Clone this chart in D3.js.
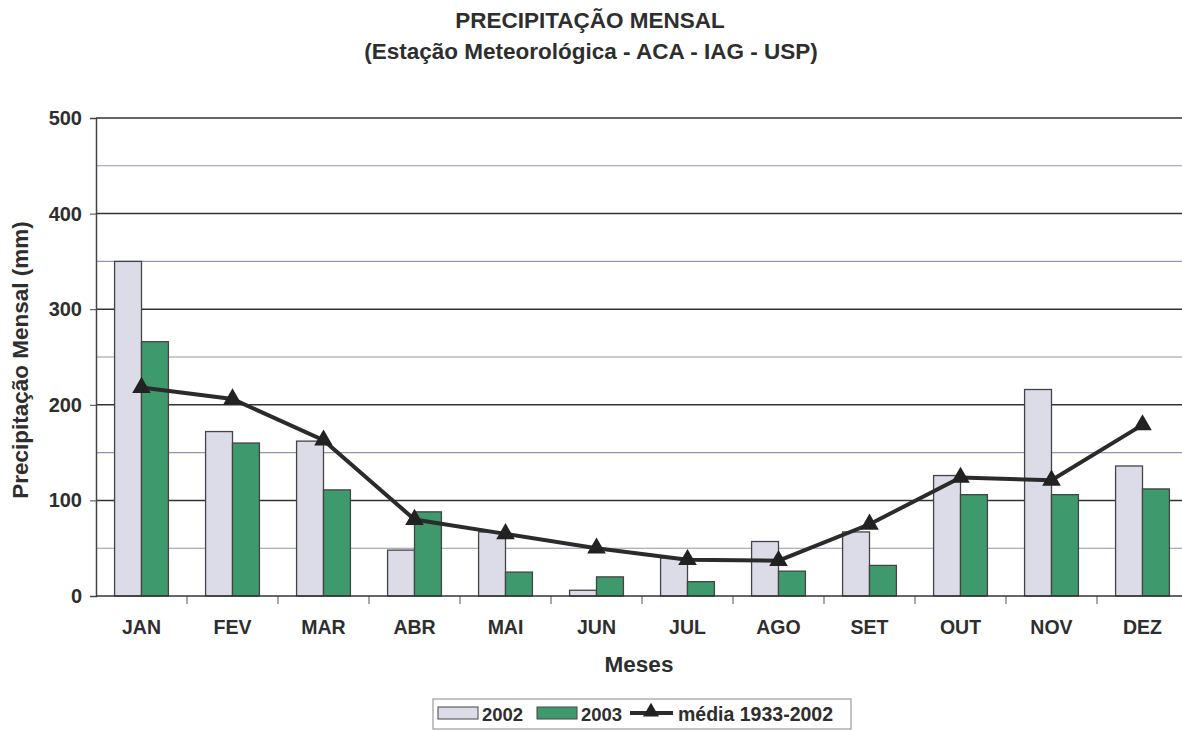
<!DOCTYPE html>
<html>
<head>
<meta charset="utf-8">
<script src="https://cdn.jsdelivr.net/npm/d3@7"></script>
<style>
  body { margin: 0; background: #fff; }
  text { font-family: "Liberation Sans", Arial, sans-serif; font-weight: bold; fill: #2e2e2e; }
</style>
</head>
<body>
<svg id="chart" width="1182" height="730"></svg>
<script>
// monthly data
const months = ["JAN", "FEV", "MAR", "ABR", "MAI", "JUN", "JUL", "AGO", "SET", "OUT", "NOV", "DEZ"];
const years = ["2002", "2003"];
const rain2002 = [350, 172, 162, 48, 67, 6, 40, 57, 67, 126, 216, 136];
const rain2003 = [266, 160, 111, 88, 25, 20, 15, 26, 32, 106, 106, 112];
const media = [218, 206, 163, 80, 65, 50, 38, 37, 75, 124, 121, 179];
const yTicks = [0, 100, 200, 300, 400, 500];
const yMinor = [50, 150, 250, 350, 450];

const colors = { "2002": "#dcdbe8", "2003": "#3e9a6c" };

const svg = d3.select("#chart");
const plotL = 96, plotR = 1188, plotT = 118, plotB = 596;

const x = d3.scaleBand().domain(months).range([plotL, plotR]).paddingInner(0).paddingOuter(0);
const xs = d3.scaleBand().domain(years).range([0, x.bandwidth()]).paddingInner(0).paddingOuter(0.69);
const y = d3.scaleLinear().domain([0, 500]).range([plotB, plotT]);

// titles
svg.append("text").attr("x", 590).attr("y", 28).attr("text-anchor", "middle")
  .style("font-size", "22.5px").text("PRECIPITAÇÃO MENSAL");
svg.append("text").attr("x", 591).attr("y", 59).attr("text-anchor", "middle")
  .style("font-size", "22.5px").text("(Estação Meteorológica - ACA - IAG - USP)");

// gridlines
svg.append("g").selectAll("line").data(yMinor).join("line")
  .attr("x1", plotL).attr("x2", 1182).attr("y1", d => y(d)).attr("y2", d => y(d))
  .attr("stroke", "#9494b0").attr("stroke-width", 1.1);
svg.append("g").selectAll("line").data(yTicks.filter(d => d > 0)).join("line")
  .attr("x1", plotL).attr("x2", 1182).attr("y1", d => y(d)).attr("y2", d => y(d))
  .attr("stroke", "#333").attr("stroke-width", 1.5);

// bars
const rows = months.map((m, i) => ({ m, v: { "2002": rain2002[i], "2003": rain2003[i] } }));
const g = svg.append("g").selectAll("g").data(rows).join("g")
  .attr("transform", d => `translate(${x(d.m)},0)`);
g.selectAll("rect").data(d => years.map(k => ({ k, v: d.v[k] }))).join("rect")
  .attr("x", d => xs(d.k)).attr("width", xs.bandwidth())
  .attr("y", d => y(d.v)).attr("height", d => y(0) - y(d.v))
  .attr("fill", d => colors[d.k]).attr("stroke", "#444").attr("stroke-width", 1.3);

// axes
const yAxis = d3.axisLeft(y).tickValues(yTicks).tickSize(6).tickPadding(8);
const ya = svg.append("g").attr("transform", `translate(${plotL},0)`).call(yAxis);
ya.select(".domain").attr("stroke", "#444").attr("stroke-width", 1.5);
ya.selectAll(".tick line").attr("stroke", "#444");
ya.selectAll("text").style("font-size", "20px").style("font-family", "Liberation Sans, Arial")
  .style("font-weight", "bold").attr("fill", "#2e2e2e");

svg.append("g").selectAll("line").data(months).join("line")
  .attr("x1", d => x(d) + x.bandwidth()).attr("x2", d => x(d) + x.bandwidth())
  .attr("y1", plotB).attr("y2", plotB + 8).attr("stroke", "#555");
svg.append("line").attr("x1", plotL).attr("x2", 1182).attr("y1", plotB).attr("y2", plotB)
  .attr("stroke", "#333").attr("stroke-width", 1.7);

svg.append("g").selectAll("text").data(months).join("text")
  .attr("x", d => x(d) + x.bandwidth() / 2).attr("y", 634).attr("text-anchor", "middle")
  .style("font-size", "19.5px").text(d => d);

svg.append("text").attr("x", 639).attr("y", 672).attr("text-anchor", "middle")
  .style("font-size", "22.5px").text("Meses");
svg.append("text").attr("transform", "translate(28,360) rotate(-90)")
  .attr("text-anchor", "middle").style("font-size", "22.5px").text("Precipitação Mensal (mm)");

// mean line
const cx = d => x(d) + x.bandwidth() / 2;
const line = d3.line().x((d, i) => cx(months[i])).y(d => y(d));
svg.append("path").datum(media).attr("d", line).attr("fill", "none")
  .attr("stroke", "#2b2b2b").attr("stroke-width", 4);
const tri = d3.symbol().type(d3.symbolTriangle).size(150);
svg.append("g").selectAll("path").data(media).join("path")
  .attr("d", tri).attr("transform", (d, i) => `translate(${cx(months[i])},${y(d)})`)
  .attr("fill", "#222");

// legend
const lg = svg.append("g");
lg.append("rect").attr("x", 433).attr("y", 699).attr("width", 418).attr("height", 30)
  .attr("fill", "#fff").attr("stroke", "#888");
const legX = [438, 537];
years.forEach((k, i) => {
  const x0 = legX[i];
  lg.append("rect").attr("x", x0).attr("y", 707).attr("width", 40).attr("height", 12)
    .attr("fill", colors[k]).attr("stroke", "#444");
  lg.append("text").attr("x", x0 + 44).attr("y", 721).style("font-size", "18.5px").text(k);
});
lg.append("line").attr("x1", 630).attr("x2", 673).attr("y1", 713).attr("y2", 713)
  .attr("stroke", "#2b2b2b").attr("stroke-width", 4);
const triS = d3.symbol().type(d3.symbolTriangle).size(110);
lg.append("path").attr("d", triS).attr("transform", "translate(651,712)").attr("fill", "#222");
lg.append("text").attr("x", 678).attr("y", 721).style("font-size", "19.5px").text("média 1933-2002");
</script>
</body>
</html>
